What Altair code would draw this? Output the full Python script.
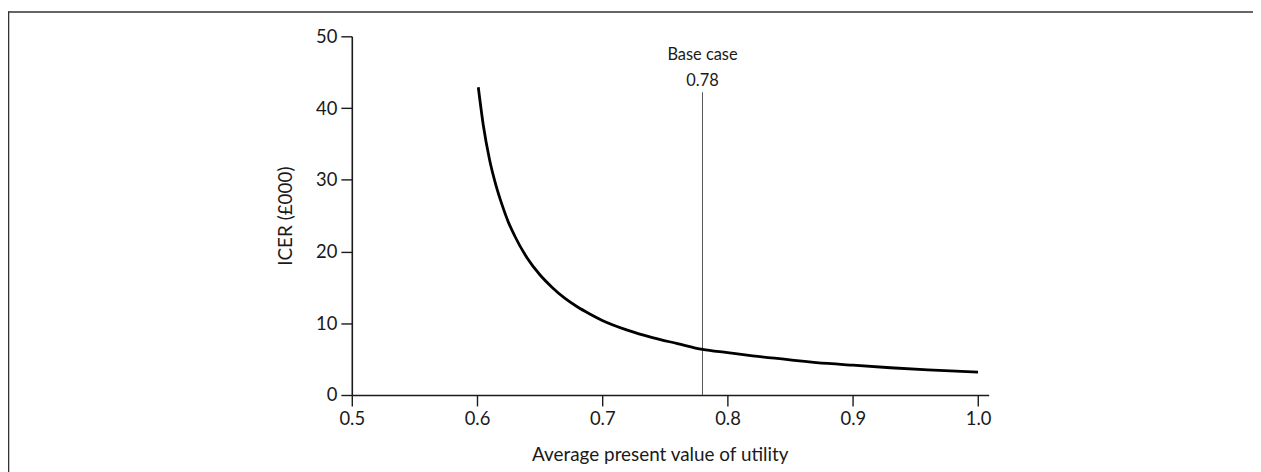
import altair as alt
import pandas as pd

# Curve
utility = [0.601, 0.605, 0.610, 0.615, 0.620, 0.625, 0.630, 0.640, 0.650, 0.660,
           0.670, 0.680, 0.690, 0.700, 0.720, 0.740, 0.760, 0.780, 0.800, 0.820,
           0.850, 0.880, 0.900, 0.930, 0.960, 1.000]
icer = [42.9, 37.6, 32.8, 29.3, 26.5, 24.1, 22.2, 19.1, 16.8, 15.0,
        13.5, 12.3, 11.3, 10.4, 9.05, 8.0, 7.17, 6.35, 5.9, 5.46,
        4.9, 4.4, 4.15, 3.8, 3.5, 3.2]

base_case_x = [0.78]
base_case_top = [42.2]
annot_text = ["Base case", "0.78"]
annot_y = [47.4, 43.7]

x_ticks = [0.5, 0.6, 0.7, 0.8, 0.9, 1.0]
y_ticks = [0, 10, 20, 30, 40, 50]

FONT = "Lato"
INK = "#1a1a1a"

curve_df = pd.DataFrame({"u": utility, "icer": icer})
base_df = pd.DataFrame({"u": base_case_x, "y0": [0], "y1": base_case_top})
annot_df = pd.DataFrame({"u": base_case_x * 2, "y": annot_y, "t": annot_text})

xscale = alt.Scale(domain=[0.5, 1.0085], nice=False, zero=False)
yscale = alt.Scale(domain=[0, 50], nice=False)

x_axis = alt.Axis(values=x_ticks, format=".1f", title="Average present value of utility",
                  grid=False, tickSize=11, labelPadding=4, labelFontSize=18.5,
                  labelFlush=False, labelOverlap=False,
                  titleFontSize=19, titleFontWeight="normal", titleX=310, titleY=65.5,
                  titleBaseline="alphabetic", titleAlign="center",
                  domainColor=INK, tickColor=INK, domainWidth=1.6, tickWidth=1.4,
                  labelColor=INK, titleColor=INK, labelFont=FONT, titleFont=FONT)
y_axis = alt.Axis(values=y_ticks, title="ICER (£000)", grid=False, tickSize=11,
                  labelPadding=4, labelFontSize=18.5, labelFlush=False, labelOverlap=False,
                  titleFontSize=19,
                  titleFontWeight="normal", titleX=-61, titleY=180.5, titleAngle=-90,
                  titleBaseline="alphabetic", titleAlign="center",
                  domainColor=INK, tickColor=INK, domainWidth=1.6, tickWidth=1.4,
                  labelColor=INK, titleColor=INK, labelFont=FONT, titleFont=FONT)

curve = alt.Chart(curve_df).mark_line(color="black", strokeWidth=2.8, interpolate="monotone").encode(
    x=alt.X("u:Q", scale=xscale, axis=x_axis),
    y=alt.Y("icer:Q", scale=yscale, axis=y_axis),
)

base_line = alt.Chart(base_df).mark_rule(color="#555555", strokeWidth=1).encode(
    x="u:Q", y="y0:Q", y2="y1:Q"
)

annot = alt.Chart(annot_df).mark_text(font=FONT, fontSize=16.5, color=INK,
                                      align="center", baseline="middle").encode(
    x="u:Q", y="y:Q", text="t:N"
)

# outer frame (top and left edges visible in the reference)
frame_top = alt.Chart(base_df).mark_rule(color="#333333", strokeWidth=1.6).encode(
    x=alt.value(-345.5), x2=alt.value(920), y=alt.value(-24.5)
)
frame_left = alt.Chart(base_df).mark_rule(color="#333333", strokeWidth=1.6).encode(
    x=alt.value(-345.5), y=alt.value(-25.3), y2=alt.value(450)
)

chart = alt.layer(frame_top, frame_left, base_line, curve, annot).properties(
    width=641, height=361,
    autosize=alt.AutoSizeParams(type="none"),
    padding={"left": 346, "top": 27, "right": 266, "bottom": 76},
).configure_view(stroke=None)

chart.save("out.html", embed_options={"renderer": "svg", "actions": False})
